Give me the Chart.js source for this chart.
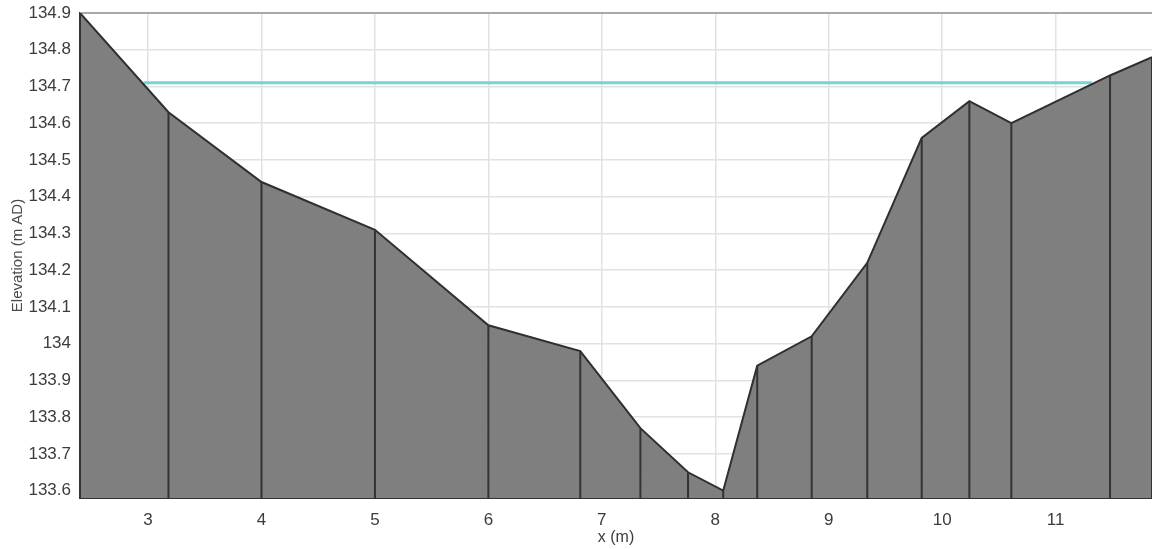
<!DOCTYPE html>
<html>
<head>
<meta charset="utf-8">
<title>Cross section</title>
<script src="https://cdn.jsdelivr.net/npm/chart.js@4.4.1/dist/chart.umd.min.js"></script>
<style>
  html, body { margin: 0; padding: 0; background: #fff; }
  #wrap { width: 1152px; height: 549px; position: relative; }
</style>
</head>
<body>
<div id="wrap"><canvas id="section"></canvas></div>
<script>
/** Cross section data **/

// chainage of each survey point (m)
var stations = [2.40, 3.18, 4.00, 5.00, 6.00, 6.81, 7.34, 7.76, 8.07,
                8.37, 8.85, 9.34, 9.82, 10.24, 10.61, 11.48, 11.85];
// bed elevation at each point (m AD)
var elevations = [134.90, 134.63, 134.44, 134.31, 134.05, 133.98, 133.77, 133.65, 133.60,
                  133.94, 134.02, 134.22, 134.56, 134.66, 134.60, 134.73, 134.78];

// water level line
var waterX = [2.96, 11.32];
var waterLevel = [134.71, 134.71];

// tick labels
var xTicks = [3, 4, 5, 6, 7, 8, 9, 10, 11];
var yTicks = [133.6, 133.7, 133.8, 133.9, 134.0, 134.1, 134.2, 134.3, 134.4, 134.5, 134.6, 134.7, 134.8, 134.9];

var yMin = 133.58;
var yMax = 134.90;

/* build the point lists for Chart.js */
var bedPoints = stations.map(function (x, i) { return { x: x, y: elevations[i] }; });
var waterPoints = waterX.map(function (x, i) { return { x: x, y: waterLevel[i] }; });

// a drop line from the bed down to the axis at every station, broken by gaps
var dropPoints = [];
stations.forEach(function (x, i) {
  dropPoints.push({ x: x, y: yMin });
  dropPoints.push({ x: x, y: elevations[i] });
  dropPoints.push({ x: x, y: null });
});

/* top frame line of the plot */
var frame = {
  id: 'frame',
  beforeDatasetsDraw: function (chart) {
    var a = chart.chartArea, ctx = chart.ctx;
    ctx.save();
    ctx.strokeStyle = '#a9a9a9';
    ctx.lineWidth = 2;
    ctx.beginPath();
    ctx.moveTo(a.left, a.top);
    ctx.lineTo(a.right, a.top);
    ctx.stroke();
    ctx.restore();
  }
};

function oneDecimal(v) { return String(Math.round(v * 10) / 10); }

var ctx = document.getElementById('section').getContext('2d');
var chart = new Chart(ctx, {
  type: 'line',
  data: {
    datasets: [{
      label: 'Water level',
      data: waterPoints,
      borderColor: '#6fd6d9',
      borderWidth: 3,
      pointRadius: 0,
      fill: false,
      order: 2
    }, {
      label: 'Bed',
      data: bedPoints,
      borderColor: '#2f2f2f',
      backgroundColor: '#7f7f7f',
      borderWidth: 2,
      pointRadius: 0,
      tension: 0,
      fill: 'start',
      order: 1
    }, {
      label: 'Stations',
      data: dropPoints,
      borderColor: '#333333',
      borderWidth: 2,
      pointRadius: 0,
      spanGaps: false,
      fill: false,
      order: 0
    }]
  },
  options: {
    responsive: true,
    maintainAspectRatio: false,
    animation: false,
    events: [],
    layout: { padding: { top: 13, right: 0, bottom: 0, left: 0 } },
    plugins: {
      legend: { display: false },
      tooltip: { enabled: false }
    },
    scales: {
      x: {
        type: 'linear',
        min: stations[0],
        max: stations[stations.length - 1],
        afterBuildTicks: function (scale) {
          scale.ticks = xTicks.map(function (v) { return { value: v }; });
        },
        afterFit: function (scale) {
          scale.height = 51;
          scale.paddingLeft = 0;
          scale.paddingRight = 0;
        },
        grid: { color: '#e2e2e2', lineWidth: 1.5, drawTicks: false },
        border: { color: '#333333', width: 2 },
        ticks: {
          padding: 12,
          color: '#3c3c3c',
          font: { family: 'Liberation Sans', size: 17 },
          maxRotation: 0,
          callback: oneDecimal
        },
        title: {
          display: true,
          text: 'x (m)',
          color: '#3c3c3c',
          font: { family: 'Liberation Sans', size: 16 },
          padding: { top: 0, bottom: 2 }
        }
      },
      y: {
        type: 'linear',
        min: yMin,
        max: yMax,
        afterBuildTicks: function (scale) {
          scale.ticks = yTicks.map(function (v) { return { value: v }; });
        },
        afterFit: function (scale) {
          scale.width = 80;
          scale.paddingTop = 0;
          scale.paddingBottom = 0;
        },
        grid: { color: '#e2e2e2', lineWidth: 1.5, drawTicks: false },
        border: { color: '#333333', width: 2 },
        ticks: {
          padding: 9,
          color: '#3c3c3c',
          font: { family: 'Liberation Sans', size: 17 },
          callback: oneDecimal
        },
        title: {
          display: true,
          text: 'Elevation (m AD)',
          color: '#4a4a4a',
          font: { family: 'Liberation Sans', size: 15 },
          padding: { top: 9, bottom: 0 }
        }
      }
    }
  },
  plugins: [frame]
});
</script>
</body>
</html>
